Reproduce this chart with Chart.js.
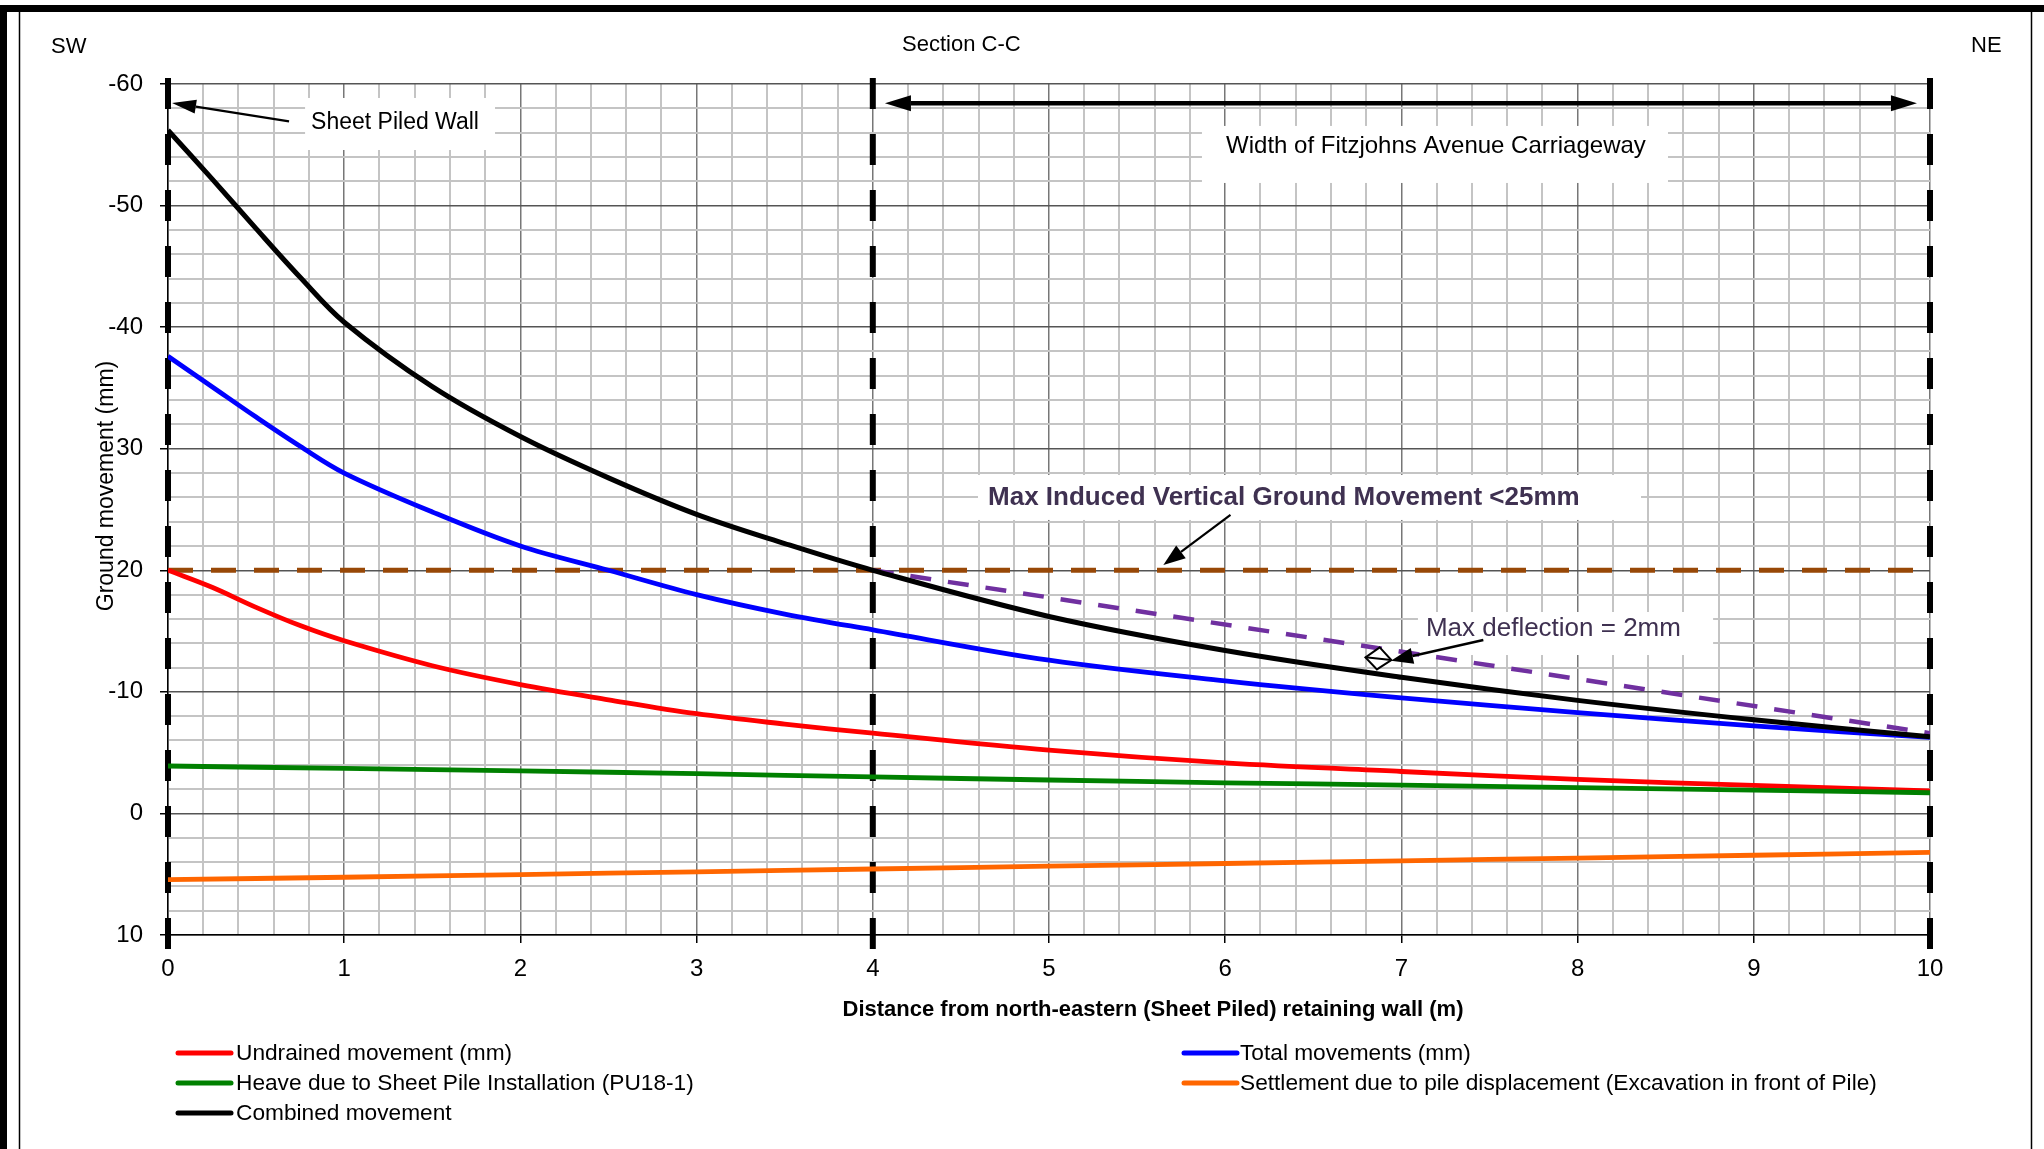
<!DOCTYPE html>
<html>
<head>
<meta charset="utf-8">
<script src="https://cdn.jsdelivr.net/npm/chart.js@4.4.1/dist/chart.umd.min.js"></script>
<style>
  html, body { margin: 0; padding: 0; background: #fff; }
  canvas { display: block; }
</style>
</head>
<body>
<canvas id="movementChart" width="2044" height="1149"></canvas>
<script>
// distances (m) and ground movements (mm, negative = up on the chart)
const distance = [0, 0.25, 0.5, 0.75, 1, 1.5, 2, 2.5, 3, 3.5, 4, 5, 6, 7, 8, 9, 10];
const combined = [-56.2, -52.2, -48.1, -44.1, -40.4, -35.1, -31.0, -27.6, -24.6, -22.2, -20.0, -16.2, -13.4, -11.2, -9.3, -7.7, -6.3];
const total = [-37.6, -35.1, -32.6, -30.2, -28.0, -24.8, -22.0, -20.0, -18.0, -16.4, -15.1, -12.6, -10.9, -9.5, -8.3, -7.2, -6.25];
const undrained = [-20.0, -18.6, -16.95, -15.45, -14.2, -12.15, -10.6, -9.35, -8.2, -7.35, -6.6, -5.2, -4.15, -3.45, -2.8, -2.3, -1.85];

const metre = [0, 1, 2, 3, 4, 5, 6, 7, 8, 9, 10];
const heave = [-3.9, -3.7, -3.5, -3.27, -3.0, -2.75, -2.52, -2.33, -2.12, -1.92, -1.7];
const settlement = [5.45, 5.25, 5.03, 4.8, 4.57, 4.34, 4.12, 3.9, 3.67, 3.44, 3.2];

const limitX = [0, 10];
const limitY = [-20, -20];
const deflX = [4, 10];
const deflY = [-20, -6.6];

const wallX = [0, 4, 10];
const wallSpan = [-60.5, 11.2];

const yTicks = [-60, -50, -40, -30, -20, -10, 0, 10];
const xTicks = [0, 1, 2, 3, 4, 5, 6, 7, 8, 9, 10];

const FONT = "'Liberation Sans', Arial, sans-serif";
Chart.defaults.font.family = FONT;
Chart.defaults.color = '#000';

function pts(xs, ys) {
  return xs.map((x, i) => ({ x: x, y: ys[i] }));
}
function isMajor(v, step) {
  const r = v / step;
  return Math.abs(r - Math.round(r)) < 1e-6;
}

const legendLeft = ['Undrained movement (mm)', 'Heave due to Sheet Pile Installation (PU18-1)', 'Combined movement'];
const legendRight = ['Total movements (mm)', 'Settlement due to pile displacement (Excavation in front of Pile)'];

const datasets = [
  { label: 'Combined movement', data: pts(distance, combined), borderColor: '#000000', borderWidth: 5, tension: 0.35, order: 1 },
  { label: 'Total movements (mm)', data: pts(distance, total), borderColor: '#0000ff', borderWidth: 4.8, tension: 0.35, order: 2 },
  { label: 'Heave due to Sheet Pile Installation (PU18-1)', data: pts(metre, heave), borderColor: '#008000', borderWidth: 4.8, tension: 0.3, order: 3 },
  { label: 'Undrained movement (mm)', data: pts(distance, undrained), borderColor: '#ff0000', borderWidth: 4.8, tension: 0.35, order: 4 },
  { label: 'Settlement due to pile displacement (Excavation in front of Pile)', data: pts(metre, settlement), borderColor: '#ff6600', borderWidth: 4.8, tension: 0.3, order: 5 },
  { label: 'deflection', data: pts(deflX, deflY), borderColor: '#7030a0', borderWidth: 4.5, borderDash: [21, 17], order: 6 },
  { label: 'limit', data: pts(limitX, limitY), borderColor: '#984807', borderWidth: 5, borderDash: [25, 18], order: 7 }
];
wallX.forEach(x => {
  datasets.push({ label: 'wall', data: pts([x, x], wallSpan), borderColor: '#000000', borderWidth: 6, borderDash: [31, 25], clip: false, order: 8 });
});
datasets.forEach(d => { d.pointRadius = 0; d.fill = false; d.borderCapStyle = 'butt'; });

function arrow(ctx, x1, y1, x2, y2, lw, len, half) {
  const a = Math.atan2(y2 - y1, x2 - x1);
  const bx = x2 - len * Math.cos(a), by = y2 - len * Math.sin(a);
  ctx.lineWidth = lw;
  ctx.beginPath(); ctx.moveTo(x1, y1); ctx.lineTo(bx, by); ctx.stroke();
  ctx.beginPath();
  ctx.moveTo(x2, y2);
  ctx.lineTo(bx + half * Math.sin(a), by - half * Math.cos(a));
  ctx.lineTo(bx - half * Math.sin(a), by + half * Math.cos(a));
  ctx.closePath(); ctx.fill();
}

const decor = {
  id: 'decor',
  beforeDraw(chart) {
    const ctx = chart.ctx;
    ctx.save();
    ctx.fillStyle = '#fff';
    ctx.fillRect(0, 0, chart.width, chart.height);
    ctx.restore();
  },
  beforeDatasetsDraw(chart) {
    const ctx = chart.ctx, sx = chart.scales.x, sy = chart.scales.y;
    const box = (x1, x2, y1, y2) => {
      const l = sx.getPixelForValue(x1), r = sx.getPixelForValue(x2);
      const t = sy.getPixelForValue(y1), b = sy.getPixelForValue(y2);
      ctx.fillRect(l, t, r - l, b - t);
    };
    ctx.save();
    ctx.fillStyle = '#fff';
    box(0.778, 1.856, -58.85, -54.57);
    box(5.868, 8.513, -56.55, -51.86);
    box(4.597, 8.36, -27.84, -24.14);
    box(7.094, 8.769, -16.57, -13.03);
    ctx.restore();
  },
  afterDatasetsDraw(chart) {
    const ctx = chart.ctx, sx = chart.scales.x, sy = chart.scales.y;
    const X = v => sx.getPixelForValue(v), Y = v => sy.getPixelForValue(v);
    ctx.save();
    ctx.fillStyle = '#000'; ctx.strokeStyle = '#000';
    ctx.textBaseline = 'alphabetic'; ctx.textAlign = 'left';

    ctx.font = '23px ' + FONT;
    ctx.fillText('Sheet Piled Wall', X(0.812), Y(-56.3));
    arrow(ctx, X(0.687), Y(-56.92), X(0.023), Y(-58.44), 2.2, 24, 7);

    ctx.font = '24px ' + FONT;
    ctx.fillText('Width of Fitzjohns Avenue Carriageway', X(6.005), Y(-54.32));
    arrow(ctx, X(7), Y(-58.41), X(4.069), Y(-58.41), 4.5, 26, 8);
    arrow(ctx, X(7), Y(-58.41), X(9.926), Y(-58.41), 4.5, 26, 8);

    ctx.fillStyle = '#3f3151';
    ctx.font = 'bold 26px ' + FONT;
    ctx.fillText('Max Induced Vertical Ground Movement <25mm', X(4.654), Y(-25.37));
    ctx.font = '26px ' + FONT;
    ctx.fillText('Max deflection = 2mm', X(7.139), Y(-14.56));

    ctx.fillStyle = '#000';
    arrow(ctx, X(6.03), Y(-24.55), X(5.649), Y(-20.43), 2.2, 22, 8);
    arrow(ctx, X(7.465), Y(-14.26), X(6.941), Y(-12.56), 2.5, 22, 8);

    // small deflection marker between the dashed line and the combined curve
    ctx.lineWidth = 2;
    ctx.fillStyle = '#fff';
    ctx.beginPath();
    ctx.moveTo(X(6.877), Y(-13.66));
    ctx.lineTo(X(6.943), Y(-12.62));
    ctx.lineTo(X(6.861), Y(-11.85));
    ctx.lineTo(X(6.796), Y(-12.84));
    ctx.closePath();
    ctx.fill(); ctx.stroke();
    ctx.beginPath();
    ctx.moveTo(X(6.796), Y(-12.84));
    ctx.lineTo(X(6.943), Y(-12.62));
    ctx.stroke();
    ctx.restore();
  },
  afterDraw(chart) {
    const ctx = chart.ctx;
    ctx.save();
    // sheet frame
    ctx.fillStyle = '#000';
    ctx.fillRect(0, 5, chart.width, 7);
    ctx.fillRect(0, 5, 7, chart.height);
    ctx.strokeStyle = '#000'; ctx.lineWidth = 1.5;
    ctx.beginPath();
    ctx.moveTo(19.5, 12); ctx.lineTo(19.5, chart.height);
    ctx.moveTo(2031.5, 12); ctx.lineTo(2031.5, chart.height);
    ctx.stroke();

    ctx.textBaseline = 'alphabetic'; ctx.textAlign = 'left';
    ctx.font = '22px ' + FONT;
    ctx.fillText('SW', 51, 53);
    ctx.fillText('NE', 1971, 52);
    ctx.fillText('Section C-C', 902, 51);

    // axis titles
    ctx.textAlign = 'center';
    ctx.font = 'bold 22px ' + FONT;
    ctx.fillText('Distance from north-eastern (Sheet Piled) retaining wall (m)', 1153, 1016);
    ctx.fillStyle = '#fff';
    ctx.fillRect(90, 358, 26, 256);
    ctx.fillStyle = '#000';
    ctx.translate(113, 486);
    ctx.rotate(-Math.PI / 2);
    ctx.font = '23px ' + FONT;
    ctx.fillText('Ground movement (mm)', 0, 0);
    ctx.setTransform(1, 0, 0, 1, 0, 0);

    // legend
    ctx.textAlign = 'left';
    ctx.font = '22.7px ' + FONT;
    ctx.lineCap = 'round'; ctx.lineWidth = 5;
    const colour = name => chart.data.datasets.find(d => d.label === name).borderColor;
    const drawCol = (names, lx, tx) => {
      names.forEach((name, i) => {
        const base = 1060 + i * 30;
        ctx.strokeStyle = colour(name);
        ctx.beginPath(); ctx.moveTo(lx, base - 7); ctx.lineTo(lx + 53, base - 7); ctx.stroke();
        ctx.fillStyle = '#000';
        ctx.fillText(name, tx, base);
      });
    };
    drawCol(legendLeft, 178, 236);
    drawCol(legendRight, 1184, 1240);
    ctx.restore();
  }
};

new Chart(document.getElementById('movementChart'), {
  type: 'line',
  data: { datasets: datasets },
  plugins: [decor],
  options: {
    responsive: false,
    animation: false,
    devicePixelRatio: 1,
    layout: { padding: { left: 0, top: 84, right: 114, bottom: 0 } },
    plugins: { legend: { display: false }, tooltip: { enabled: false } },
    scales: {
      x: {
        type: 'linear', min: 0, max: 10,
        afterFit: s => { s.height = 214; },
        ticks: {
          stepSize: 0.2, autoSkip: false, maxRotation: 0, minRotation: 0, padding: 12,
          font: { size: 24 },
          callback: v => (isMajor(v, 1) && xTicks.includes(Math.round(v))) ? String(Math.round(v)) : ''
        },
        grid: {
          color: c => isMajor(c.tick.value, 1) ? '#777' : '#c4c4c4',
          lineWidth: c => isMajor(c.tick.value, 1) ? 1.5 : 2,
          tickColor: c => isMajor(c.tick.value, 1) ? '#000' : 'rgba(0,0,0,0)',
          tickLength: 8, tickWidth: 1.5
        },
        border: { color: '#000', width: 1.5 }
      },
      y: {
        type: 'linear', min: -60, max: 10, reverse: true,
        afterFit: s => { s.width = 168; },
        ticks: {
          stepSize: 2, autoSkip: false, padding: 17,
          font: { size: 24 },
          callback: v => (isMajor(v, 10) && yTicks.includes(Math.round(v))) ? String(Math.round(v)) : ''
        },
        grid: {
          color: c => isMajor(c.tick.value, 10) ? '#555' : '#c4c4c4',
          lineWidth: c => isMajor(c.tick.value, 10) ? 1.5 : 2,
          tickColor: c => isMajor(c.tick.value, 10) ? '#000' : 'rgba(0,0,0,0)',
          tickLength: 8, tickWidth: 1.5
        },
        border: { color: '#000', width: 1.5 }
      }
    }
  }
});
</script>
</body>
</html>
